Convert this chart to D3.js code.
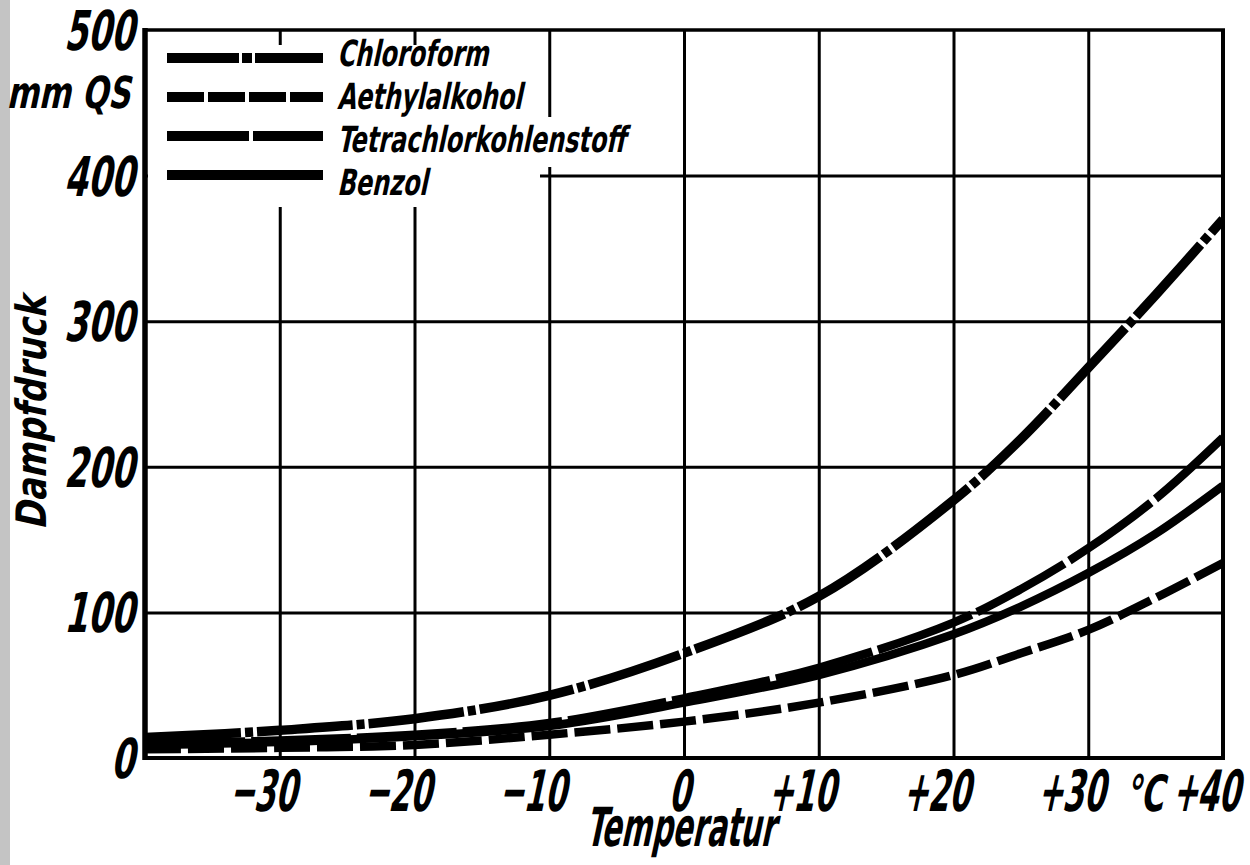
<!DOCTYPE html>
<html><head><meta charset="utf-8">
<script src="https://cdn.jsdelivr.net/npm/d3@7"></script>
<style>html,body{margin:0;padding:0;background:#fff;} svg{display:block;}</style>
</head><body>
<svg id="chart" width="1250" height="865"></svg>
<script>
// ---- data ----
const temperatures = [-40, -30, -20, -10, 0, 10, 20, 25, 30, 35, 40];
const chloroform = [14, 19, 27, 43, 72, 111, 177, 219, 268, 318, 370];
const aethylalkohol = [6, 7, 9, 16, 25, 38, 57, 72, 88, 110, 134];
const tetrachlorkohlenstoff = [10, 12, 16, 24, 41, 62, 93, 116, 144, 178, 220];
const benzol = [9, 11, 15, 22, 38, 57, 85, 104, 127, 154, 187];
const seriesNames = ["Chloroform", "Aethylalkohol", "Tetrachlorkohlenstoff", "Benzol"];
const yTickValues = [0, 100, 200, 300, 400, 500];
const yTickLabels = ["0", "100", "200", "300", "400", "500"];
const xTickValues = [-30, -20, -10, 0, 10, 20, 30, 40];
const xTickSigns = ["\u2212", "\u2212", "\u2212", "", "+", "+", "+", "+"];
const xTickDigits = ["30", "20", "10", "0", "10", "20", "30", "40"];
const unitLabel = "°C";
const yUnitLabel = "mm QS";
const xTitle = "Temperatur";
const yTitle = "Dampfdruck";

// ---- styles ----
const seriesValues = [chloroform, aethylalkohol, tetrachlorkohlenstoff, benzol];
const curveDash = ["96 4 8 4", "36 7", "100 6", null];
const legendDash = ["72 3 10 3", "37 4", "82 4", null];
const FONT = "'DejaVu Sans Condensed','Liberation Sans Narrow','DejaVu Sans',sans-serif";

const svg = d3.select("#chart");
svg.append("rect").attr("width", 1250).attr("height", 865).attr("fill", "#fff");
svg.append("rect").attr("x", 0).attr("y", 0).attr("width", 10).attr("height", 865).attr("fill", "#c4c4c4");

const x = d3.scaleLinear().domain([-40, 40]).range([145, 1223]);
const y = d3.scaleLinear().domain([0, 500]).range([758, 30]);

// grid through axes
svg.append("g").attr("transform", `translate(0,${y(0)})`)
  .call(d3.axisBottom(x).tickValues(xTickValues.filter(v => v < 40)).tickSize(-(y(0) - y(500))).tickFormat(""))
  .call(g => { g.select(".domain").remove(); g.selectAll("line").attr("stroke", "#000").attr("stroke-width", 3); });
svg.append("g").attr("transform", `translate(${x(-40)},0)`)
  .call(d3.axisLeft(y).tickValues(yTickValues.filter(v => v > 0 && v < 500)).tickSize(-(x(40) - x(-40))).tickFormat(""))
  .call(g => { g.select(".domain").remove(); g.selectAll("line").attr("stroke", "#000").attr("stroke-width", 3); });

// legend area clears the grid
svg.append("rect").attr("x", x(-40) + 3).attr("y", 45).attr("width", 540 - x(-40) - 3).attr("height", 162).attr("fill", "#fff");
svg.append("rect").attr("x", 540).attr("y", 117).attr("width", 85).attr("height", 50).attr("fill", "#fff");

// curves
svg.append("clipPath").attr("id", "plotclip").append("rect")
  .attr("x", x(-40)).attr("y", y(500)).attr("width", x(40) - x(-40)).attr("height", y(0) - y(500));
const line = d3.line().x((d, i) => x(temperatures[i])).y(d => y(d)).curve(d3.curveCatmullRom.alpha(0.5));
const curves = svg.append("g").attr("clip-path", "url(#plotclip)");
seriesValues.forEach((vals, i) => {
  curves.append("path").attr("d", line(vals)).attr("fill", "none").attr("stroke", "#000")
    .attr("stroke-width", i === 0 ? 9.5 : 8.5)
    .attr("stroke-dasharray", curveDash[i]);
});

// frame
const fr = svg.append("g").attr("stroke", "#000").attr("fill", "none");
fr.append("line").attr("x1", x(-40)).attr("x2", x(-40)).attr("y1", y(500) - 2).attr("y2", y(0) + 2).attr("stroke-width", 5.5);
fr.append("line").attr("x1", x(-40)).attr("x2", x(40) + 2).attr("y1", y(500)).attr("y2", y(500)).attr("stroke-width", 3.5);
fr.append("line").attr("x1", x(40)).attr("x2", x(40)).attr("y1", y(500)).attr("y2", y(0) + 2).attr("stroke-width", 4);
fr.append("line").attr("x1", x(-40)).attr("x2", x(40) + 2).attr("y1", y(0)).attr("y2", y(0)).attr("stroke-width", 4);

// italic text helper
function itText(str, px, py, o) {
  return svg.append("text")
    .attr("transform", `translate(${px},${py})${o.rotate ? " rotate(" + o.rotate + ")" : ""} skewX(-12) scale(${o.sx || 1},1)`)
    .attr("text-anchor", o.anchor || "start")
    .style("font-family", o.family || FONT)
    .style("font-size", o.size + "px")
    .style("font-weight", o.weight || "bold")
    .attr("fill", "#000")
    .text(str);
}

// y tick labels
yTickValues.forEach((v, i) => {
  itText(yTickLabels[i], 134, y(v) + 20, { size: 55, sx: 0.68, anchor: "end" });
});
itText(yUnitLabel, 130, 108, { size: 44, sx: 0.78, anchor: "end" });

// x tick labels: digits centred on gridline, sign hanging left
xTickValues.forEach((v, i) => {
  const cx = x(v) - 5;
  const d = itText(xTickDigits[i], cx, 811, { size: 57, sx: 0.6, anchor: "middle" });
  const w = d.node().getComputedTextLength() * 0.6;
  if (xTickSigns[i]) itText(xTickSigns[i], cx - w / 2 + 1, 811, { size: 57, sx: 0.6, anchor: "end" });
});
itText(unitLabel, x(35) - 12, 811, { size: 50, sx: 0.7, anchor: "middle" });

// axis titles
itText(xTitle, x(0) - 4, 846, { size: 54, sx: 0.6, anchor: "middle" });
itText(yTitle, 46, 413, { size: 42, sx: 0.9, anchor: "middle", rotate: -90 });

// legend
seriesNames.forEach((name, i) => {
  const ly = 58 + 39 * i;
  svg.append("line").attr("x1", 167).attr("x2", 323).attr("y1", ly).attr("y2", ly)
    .attr("stroke", "#000").attr("stroke-width", 10).attr("stroke-dasharray", legendDash[i]);
  itText(name, 337, 66 + 43 * i, { size: 36, sx: 0.74, anchor: "start" });
});
</script>
</body></html>
